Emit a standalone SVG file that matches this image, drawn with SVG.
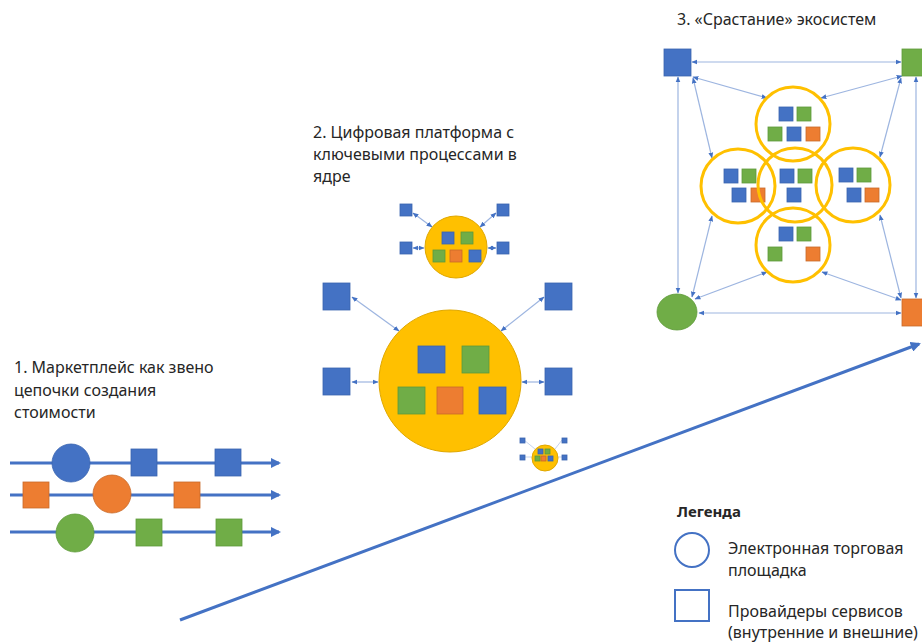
<svg xmlns="http://www.w3.org/2000/svg" width="922" height="642" viewBox="0 0 922 642">
<defs>
<marker id="ah" viewBox="0 0 10 10" refX="8" refY="5" markerWidth="3.4" markerHeight="3.4" orient="auto"><path d="M0,0 L10,5 L0,10 z" fill="#4472C4"/></marker>
<marker id="sm" viewBox="0 0 10 10" refX="9" refY="5" markerWidth="6" markerHeight="6" markerUnits="userSpaceOnUse" orient="auto-start-reverse"><path d="M0,1 L10,5 L0,9 z" fill="#4472C4"/></marker>
</defs>
<style>
text{font-family:"Noto Sans","Open Sans",sans-serif;font-size:16px;fill:#262626}
.bold{font-weight:bold;font-size:15px}
.b{fill:#4472C4;stroke:#3A64B0;stroke-width:0.8}
.g{fill:#70AD47;stroke:#5E9A3A;stroke-width:0.8}
.o{fill:#ED7D31;stroke:#C8692A;stroke-width:0.8}
.flow{stroke:#4472C4;stroke-width:3;fill:none;marker-end:url(#ah)}
.c{stroke:#9DB5E0;stroke-width:1.2;fill:none;marker-start:url(#sm);marker-end:url(#sm)}
.f{stroke:#C5D3EE;stroke-width:1;fill:none}
.ring{fill:none;stroke:#FFC000;stroke-width:3}
.hub{fill:#FFC000;stroke:#E0A800;stroke-width:1}
</style>

<g id="connectors">
  <line class="flow" x1="10" y1="463" x2="279" y2="463"/>
  <line class="flow" x1="10" y1="495" x2="279" y2="495"/>
  <line class="flow" x1="10" y1="532" x2="279" y2="532"/>
  <line class="flow" x1="180" y1="620" x2="919" y2="344"/>
  <line class="c" x1="352" y1="297" x2="399" y2="331"/>
  <line class="c" x1="544" y1="297" x2="501" y2="331"/>
  <line class="c" x1="352" y1="382" x2="378" y2="382"/>
  <line class="c" x1="544" y1="382" x2="522" y2="382"/>
  <line class="c" x1="413" y1="213" x2="432" y2="227"/>
  <line class="c" x1="496" y1="213" x2="480" y2="227"/>
  <line class="c" x1="413" y1="248" x2="424" y2="248"/>
  <line class="c" x1="496" y1="248" x2="488" y2="248"/>
  <line class="f" x1="524" y1="440" x2="535" y2="449"/>
  <line class="f" x1="562" y1="440" x2="555" y2="449"/>
  <line class="f" x1="524" y1="457" x2="532" y2="457"/>
  <line class="f" x1="562" y1="457" x2="558" y2="457"/>
  <line class="c" x1="692" y1="62" x2="901" y2="62"/>
  <line class="c" x1="699" y1="313" x2="901" y2="313"/>
  <line class="c" x1="678" y1="77" x2="678" y2="293"/>
  <line class="c" x1="916" y1="77" x2="916" y2="298"/>
  <line class="c" x1="693" y1="77" x2="767" y2="98"/>
  <line class="c" x1="902" y1="76" x2="821" y2="98"/>
  <line class="c" x1="693" y1="78" x2="712" y2="158"/>
  <line class="c" x1="901" y1="78" x2="880" y2="157"/>
  <line class="c" x1="692" y1="297" x2="712" y2="216"/>
  <line class="c" x1="695" y1="299" x2="767" y2="272"/>
  <line class="c" x1="901" y1="300" x2="822" y2="272"/>
  <line class="c" x1="901" y1="298" x2="880" y2="215"/>
</g>

<g id="title1">
  <text x="14" y="373">1. Маркетплейс как звено</text>
  <text x="14" y="396">цепочки создания</text>
  <text x="14" y="418">стоимости</text>
</g>
<g id="chain1">
  <circle class="b" cx="71" cy="463" r="19"/>
  <rect class="b" x="131" y="449" width="26" height="27"/>
  <rect class="b" x="215" y="449" width="26" height="27"/>
</g>
<g id="chain2">
  <rect class="o" x="23" y="482" width="26" height="26"/>
  <circle class="o" cx="112" cy="494" r="19"/>
  <rect class="o" x="174" y="482" width="26" height="26"/>
</g>
<g id="chain3">
  <circle class="g" cx="75" cy="533" r="19"/>
  <rect class="g" x="136" y="519" width="26" height="27"/>
  <rect class="g" x="216" y="519" width="26" height="27"/>
</g>

<g id="title2">
  <text x="313" y="138">2. Цифровая платформа с</text>
  <text x="313" y="160">ключевыми процессами в</text>
  <text x="313" y="182">ядре</text>
</g>
<g id="small-hub">
  <circle class="hub" cx="456" cy="247" r="31"/>
  <rect class="b" x="442" y="232" width="12" height="12"/>
  <rect class="g" x="461" y="232" width="12" height="12"/>
  <rect class="g" x="433" y="250" width="12" height="12"/>
  <rect class="o" x="450" y="250" width="12" height="12"/>
  <rect class="b" x="469" y="250" width="12" height="12"/>
  <rect class="b" x="400" y="204" width="12" height="12"/>
  <rect class="b" x="497" y="204" width="12" height="12"/>
  <rect class="b" x="400" y="242" width="12" height="12"/>
  <rect class="b" x="497" y="242" width="12" height="12"/>
</g>
<g id="big-hub">
  <circle class="hub" cx="450" cy="381" r="71"/>
  <rect class="b" x="418" y="346" width="27" height="27"/>
  <rect class="g" x="462" y="346" width="27" height="27"/>
  <rect class="g" x="398" y="387" width="27" height="27"/>
  <rect class="o" x="437" y="387" width="26" height="27"/>
  <rect class="b" x="479" y="387" width="27" height="27"/>
  <rect class="b" x="323" y="283" width="27" height="27"/>
  <rect class="b" x="545" y="283" width="27" height="27"/>
  <rect class="b" x="323" y="368" width="27" height="27"/>
  <rect class="b" x="545" y="368" width="27" height="27"/>
</g>
<g id="tiny-hub">
  <circle class="hub" cx="545" cy="458" r="13"/>
  <rect class="b" x="538" y="449" width="5" height="5"/>
  <rect class="g" x="545" y="449" width="5" height="5"/>
  <rect class="g" x="535" y="456" width="5" height="5"/>
  <rect class="o" x="541" y="456" width="5" height="5"/>
  <rect class="b" x="548" y="456" width="5" height="5"/>
  <rect class="b" x="520" y="438" width="5" height="5"/>
  <rect class="b" x="562" y="438" width="5" height="5"/>
  <rect class="b" x="520" y="455" width="5" height="5"/>
  <rect class="b" x="562" y="455" width="5" height="5"/>
</g>

<g id="title3">
  <text x="677" y="25">3. «Срастание» экосистем</text>
</g>
<g id="eco-corners">
  <rect class="b" x="664" y="49" width="27" height="27"/>
  <rect class="g" x="902" y="49" width="27" height="27"/>
  <ellipse class="g" cx="677" cy="312" rx="20" ry="18"/>
  <rect class="o" x="902" y="299" width="27" height="27"/>
</g>
<g id="eco-top">
  <circle class="ring" cx="793" cy="124" r="37"/>
  <rect class="b" x="779" y="107" width="14" height="14"/>
  <rect class="g" x="797" y="107" width="14" height="14"/>
  <rect class="g" x="768" y="127" width="14" height="14"/>
  <rect class="b" x="787" y="127" width="14" height="14"/>
  <rect class="o" x="806" y="127" width="14" height="14"/>
</g>
<g id="eco-left">
  <circle class="ring" cx="738" cy="186" r="37"/>
  <rect class="b" x="724" y="169" width="14" height="14"/>
  <rect class="g" x="742" y="169" width="14" height="14"/>
  <rect class="b" x="732" y="188" width="14" height="14"/>
  <rect class="o" x="751" y="188" width="14" height="14"/>
</g>
<g id="eco-center">
  <circle class="ring" cx="795" cy="185" r="37"/>
  <rect class="b" x="780" y="169" width="14" height="14"/>
  <rect class="g" x="798" y="169" width="14" height="14"/>
  <rect class="b" x="787" y="188" width="14" height="14"/>
</g>
<g id="eco-right">
  <circle class="ring" cx="853" cy="185" r="37"/>
  <rect class="b" x="839" y="168" width="14" height="14"/>
  <rect class="g" x="857" y="168" width="14" height="14"/>
  <rect class="b" x="847" y="188" width="14" height="14"/>
  <rect class="o" x="865" y="188" width="14" height="14"/>
</g>
<g id="eco-bottom">
  <circle class="ring" cx="793" cy="245" r="37"/>
  <rect class="b" x="779" y="227" width="14" height="14"/>
  <rect class="g" x="797" y="227" width="14" height="14"/>
  <rect class="g" x="768" y="247" width="14" height="14"/>
  <rect class="o" x="806" y="247" width="14" height="14"/>
</g>

<g id="legend">
  <text class="bold" x="677" y="517">Легенда</text>
  <circle cx="692" cy="550" r="17" fill="none" stroke="#4472C4" stroke-width="2"/>
  <text x="728" y="554">Электронная торговая</text>
  <text x="728" y="576">площадка</text>
  <rect x="675" y="590" width="34" height="31" fill="none" stroke="#4472C4" stroke-width="2"/>
  <text x="728" y="617">Провайдеры сервисов</text>
  <text x="728" y="638">(внутренние и внешние)</text>
</g>
</svg>
